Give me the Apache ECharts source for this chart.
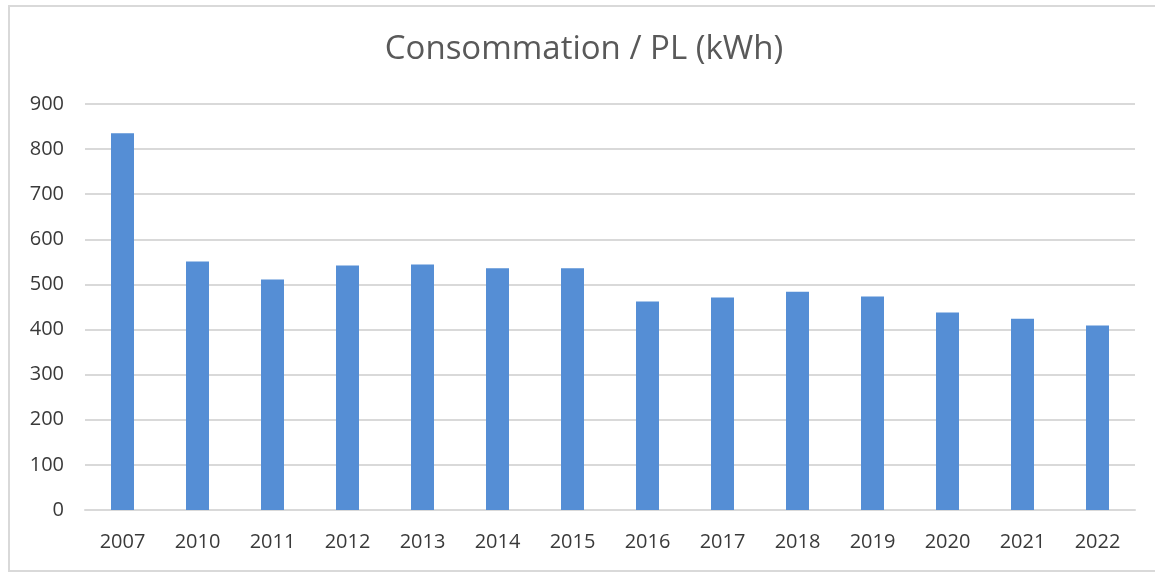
<!DOCTYPE html>
<html>
<head>
<meta charset="utf-8">
<script src="https://cdn.jsdelivr.net/npm/echarts@6/dist/echarts.min.js"></script>
<style>
  html, body { margin: 0; padding: 0; background: #fff; }
  #chart { width: 1155px; height: 574px; }
</style>
</head>
<body>
<div id="chart"></div>
<script>
// données
const years = ['2007', '2010', '2011', '2012', '2013', '2014', '2015', '2016', '2017', '2018', '2019', '2020', '2021', '2022'];
const consommation = [835, 551, 511, 542, 544, 536, 536, 462, 471, 484, 473, 438, 424, 409];
const yTicks = { min: 0, max: 900, interval: 100 };

const font = '"Open Sans", sans-serif';
const chart = echarts.init(document.getElementById('chart'));

const option = {
    backgroundColor: '#fff',
    animation: false,
    title: {
        text: 'Consommation / PL (kWh)',
        left: 579,
        top: 28,
        textAlign: 'center',
        textStyle: {
            fontFamily: font,
            fontSize: 33,
            fontWeight: 'normal',
            color: '#595959'
        }
    },
    graphic: [{
        type: 'rect',
        shape: { x: 9, y: 6, width: 1160, height: 565 },
        style: { fill: 'none', stroke: '#d9d9d9', lineWidth: 2 },
        silent: true
    }],
    grid: {
        left: 85,
        right: 20,
        top: 104,
        bottom: 64
    },
    xAxis: {
        type: 'category',
        data: years,
        axisLine: { lineStyle: { color: '#d9d9d9', width: 2 } },
        axisTick: { show: false },
        axisLabel: {
            margin: 22,
            fontFamily: font,
            fontSize: 20,
            color: '#3a3a3a'
        }
    },
    yAxis: {
        type: 'value',
        min: yTicks.min,
        max: yTicks.max,
        interval: yTicks.interval,
        axisLine: { show: false },
        axisTick: { show: false },
        splitLine: { lineStyle: { color: '#d9d9d9', width: 2 } },
        axisLabel: {
            margin: 21,
            fontFamily: font,
            fontSize: 20,
            color: '#3a3a3a'
        }
    },
    series: [{
        name: 'Consommation',
        type: 'bar',
        data: consommation,
        barWidth: 23,
        itemStyle: { color: '#558ed5' }
    }]
};

chart.setOption(option);
</script>
</body>
</html>
